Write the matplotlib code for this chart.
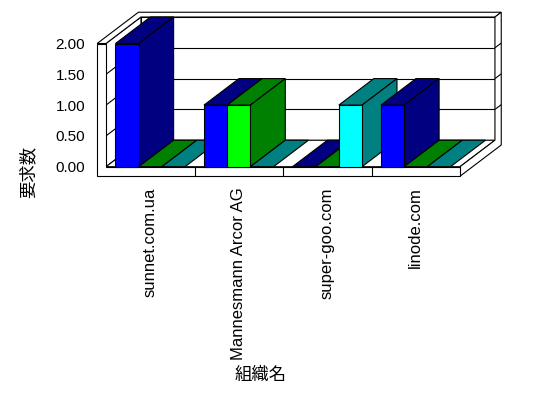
import numpy as np
import matplotlib.pyplot as plt
from matplotlib.patches import Polygon

plt.rcParams['font.family'] = ['Liberation Sans', 'Noto Sans CJK JP']

categories = ['sunnet.com.ua', 'Mannesmann Arcor AG', 'super-goo.com', 'linode.com']
series_a = [2, 1, 0, 1]
series_b = [0, 1, 0, 0]
series_c = [0, 0, 1, 0]
yticks = [0, 0.5, 1.0, 1.5, 2.0]
xlabel = '組織名'
ylabel = '要求数'

front_cols = ['#0000ff', '#00ff00', '#00ffff']
dark_cols = ['#000080', '#008000', '#008080']

# fake 3d: depth offset and wall thickness, in data units
DX, DY = 0.395, 0.43
WALL, FLOOR, BACK = 0.1, 0.155, 0.18
LW = 0.8


def proj(x, y, z):
    return (x + z * DX, y + z * DY)


def face(ax, pts, color):
    ax.add_patch(Polygon([proj(*p) for p in pts], closed=True, fc=color, ec='black',
                         lw=LW, clip_on=False, joinstyle='miter', zorder=1))


def line(ax, p1, p2):
    a, b = proj(*p1), proj(*p2)
    ax.plot([a[0], b[0]], [a[1], b[1]], color='black', lw=LW, clip_on=False,
            solid_capstyle='butt', zorder=1)


fig = plt.figure(figsize=(5.48, 3.98), dpi=100)
ax = fig.add_axes([106 / 548, (398 - 166.7) / 398, 354 / 548, 123.2 / 398])
n = len(categories)
top = yticks[-1]
ax.set_xlim(0, n)
ax.set_ylim(0, top)
for s in ax.spines.values():
    s.set_visible(False)

# back wall, left wall, floor
face(ax, [(0, 0, 1), (n, 0, 1), (n, top, 1), (0, top, 1)], 'white')
face(ax, [(0, 0, 0), (0, 0, 1), (0, top, 1), (0, top, 0)], 'white')
face(ax, [(0, 0, 0), (n, 0, 0), (n, 0, 1), (0, 0, 1)], 'white')
for y in yticks[1:-1]:
    line(ax, (0, y, 1), (n, y, 1))
    line(ax, (0, y, 0), (0, y, 1))

# outer slab of the box
face(ax, [(-WALL, top, 0), (0, top, 0), (0, top, 1), (n, top, 1),
          (n, top, 1 + BACK), (-WALL, top, 1 + BACK)], 'white')
face(ax, [(n, -FLOOR, 0), (n, 0, 0), (n, 0, 1), (n, top, 1),
          (n, top, 1 + BACK), (n, -FLOOR, 1 + BACK)], 'white')
for y in yticks[1:-1]:
    line(ax, (n, y, 1), (n, y, 1 + BACK))
face(ax, [(-WALL, -FLOOR, 0), (n, -FLOOR, 0), (n, 0, 0), (0, 0, 0),
          (0, top, 0), (-WALL, top, 0)], 'white')
for i in range(1, n):
    line(ax, (i, -FLOOR, 0), (i, 0, 0))

# bars, left to right so each front face hides the previous side face
series = [series_a, series_b, series_c]
gap = 0.107
bw = (1 - 2 * gap) / len(series)
for i in range(n):
    for j, vals in enumerate(series):
        x0 = i + gap + j * bw
        h = vals[i]
        if h > 0:
            face(ax, [(x0, h, 0), (x0 + bw, h, 0), (x0 + bw, h, 1), (x0, h, 1)], dark_cols[j])
            face(ax, [(x0 + bw, 0, 0), (x0 + bw, h, 0), (x0 + bw, h, 1), (x0 + bw, 0, 1)], dark_cols[j])
            face(ax, [(x0, 0, 0), (x0 + bw, 0, 0), (x0 + bw, h, 0), (x0, h, 0)], front_cols[j])
        else:
            face(ax, [(x0, 0, 0), (x0 + bw, 0, 0), (x0 + bw, 0, 1), (x0, 0, 1)], dark_cols[j])

ax.set_yticks(yticks)
ax.set_yticklabels(['%.2f' % v for v in yticks], fontsize=11)
ax.set_xticks(np.arange(n) + 0.5)
ax.set_xticklabels(categories, rotation=90, fontsize=12)
ax.tick_params(axis='y', length=0, pad=15)
ax.tick_params(axis='x', length=0, pad=15)

ax.set_xlabel(xlabel, fontsize=12.5)
ax.xaxis.set_label_coords(0.438, -1.69)
ax.xaxis.label.set_va('center')
ax.set_ylabel(ylabel, fontsize=12.5)
ax.yaxis.set_label_coords(-0.22, -0.04)
ax.yaxis.label.set_va('center')

fig.savefig('out.png', dpi=100)
